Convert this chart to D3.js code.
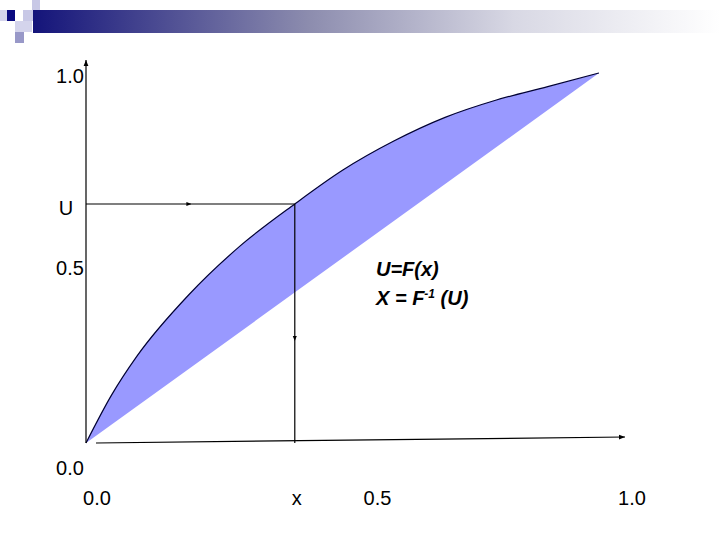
<!DOCTYPE html>
<html>
<head>
<meta charset="utf-8">
<script src="https://cdn.jsdelivr.net/npm/d3@7"></script>
<style>
  body { margin: 0; background: #fff; }
  svg { display: block; font-family: "Liberation Sans", Arial, sans-serif; }
  .tick-label { font-size: 20px; fill: #000; }
  .formula { font-size: 20px; font-weight: bold; font-style: italic; fill: #000; }
</style>
</head>
<body>
<script>
// curve points, x and U=F(x) in 0..1
const curveX = [0, 0.05, 0.1, 0.2, 0.3, 0.407, 0.5, 0.6, 0.7, 0.8, 0.9, 1.0];
const curveU = [0, 0.130, 0.236, 0.400, 0.532, 0.646, 0.737, 0.816, 0.880, 0.927, 0.963, 1.0];

// chord under the curve
const chordX = [0, 1];
const chordU = [0, 1];

// the sampled point
const pointX = 0.407;
const pointU = 0.646;

// tick labels
const yTickVals = [1.0, 0.5, 0.0];
const yTickText = ["1.0", "0.5", "0.0"];
const xTickVals = [0.0, 0.5, 1.0];
const xTickText = ["0.0", "0.5", "1.0"];

const width = 720;
const height = 540;

const svg = d3.select('body')
  .append('svg')
  .attr('width', width)
  .attr('height', height);

const defs = svg.append('defs');

// banner gradient
const grad = defs.append('linearGradient')
  .attr('id', 'banner')
  .attr('x1', '0%').attr('x2', '100%')
  .attr('y1', '0%').attr('y2', '0%');
grad.append('stop').attr('offset', '0%').attr('stop-color', '#14147a');
grad.append('stop').attr('offset', '40%').attr('stop-color', '#8c8cae');
grad.append('stop').attr('offset', '70%').attr('stop-color', '#d8d8e4');
grad.append('stop').attr('offset', '100%').attr('stop-color', '#ffffff');

// small arrow head
defs.append('marker')
  .attr('id', 'arrow')
  .attr('viewBox', '0 -5 10 10')
  .attr('refX', 10)
  .attr('markerWidth', 5)
  .attr('markerHeight', 5)
  .attr('orient', 'auto')
.append('path')
  .attr('d', 'M0,-4L10,0L0,4')
  .attr('fill', '#000');

// slide decoration
svg.append('rect')
  .attr('x', 33).attr('y', 10)
  .attr('width', width - 33).attr('height', 23)
  .attr('fill', 'url(#banner)');

const squares = [
  [0, 10, 7, 11, '#d4d4ec'],
  [7, 10, 8, 11, '#0a0a80'],
  [32, 0, 8, 10, '#c8c8e6'],
  [23, 10, 10, 11, '#c8c8e6'],
  [15, 21, 17, 11, '#d4d4ec'],
  [15, 32, 9, 11, '#9898c8']
];
svg.selectAll('rect.sq')
  .data(squares)
  .enter().append('rect')
  .attr('class', 'sq')
  .attr('x', (d) => d[0]).attr('y', (d) => d[1])
  .attr('width', (d) => d[2]).attr('height', (d) => d[3])
  .attr('fill', (d) => d[4]);

// scales
const x = d3.scaleLinear().domain([0, 1]).range([86, 599]);
const y = d3.scaleLinear().domain([0, 1]).range([443, 73]);

const curvePts = curveX.map((v, i) => [v, curveU[i]]);
const chordPts = chordX.map((v, i) => [v, chordU[i]]).reverse();

// fill between curve and chord
const line = d3.line()
  .x((d) => x(d[0]))
  .y((d) => y(d[1]))
  .curve(d3.curveMonotoneX);

const area = line(curvePts) + 'L' + chordPts.map((d) => x(d[0]) + ',' + y(d[1])).join('L') + 'Z';
svg.append('path')
  .attr('d', area)
  .attr('fill', '#9999ff')
  .attr('stroke', 'none');

svg.append('path')
  .attr('d', line(curvePts))
  .attr('fill', 'none')
  .attr('stroke', '#000033')
  .attr('stroke-width', 1.2);

// axes
svg.append('line')
  .attr('x1', x(0)).attr('y1', y(0))
  .attr('x2', x(0)).attr('y2', 60)
  .attr('stroke', '#000').attr('stroke-width', 1.2)
  .attr('marker-end', 'url(#arrow)');

svg.append('line')
  .attr('x1', x(0) + 10).attr('y1', y(0))
  .attr('x2', 625).attr('y2', y(0) - 6)
  .attr('stroke', '#000').attr('stroke-width', 1.2)
  .attr('marker-end', 'url(#arrow)');

// U -> x guide lines
svg.append('line')
  .attr('x1', x(0)).attr('y1', y(pointU))
  .attr('x2', x(pointX)).attr('y2', y(pointU))
  .attr('stroke', '#000').attr('stroke-width', 1.2);
svg.append('path')
  .attr('d', `M${x(0)},${y(pointU)}L${(x(0) + x(pointX)) / 2 + 1},${y(pointU)}`)
  .attr('stroke', 'none')
  .attr('marker-end', 'url(#arrow)');

svg.append('line')
  .attr('x1', x(pointX)).attr('y1', y(pointU))
  .attr('x2', x(pointX)).attr('y2', y(0))
  .attr('stroke', '#000').attr('stroke-width', 1.2);
svg.append('path')
  .attr('d', `M${x(pointX)},${y(pointU)}L${x(pointX)},${y(pointU) + 137}`)
  .attr('stroke', 'none')
  .attr('marker-end', 'url(#arrow)');

// y labels
const yLabelShift = [-3, -10, -25];
svg.selectAll('text.ylab')
  .data(yTickVals)
  .enter().append('text')
  .attr('class', 'tick-label')
  .attr('x', 70)
  .attr('y', (d, i) => y(d) - yLabelShift[i] + 7)
  .attr('text-anchor', 'middle')
  .text((d, i) => yTickText[i]);

svg.append('text')
  .attr('class', 'tick-label')
  .attr('x', 66)
  .attr('y', y(pointU) + 11)
  .attr('text-anchor', 'middle')
  .text('U');

// x labels
const xLabelShift = [11, 35, 33];
svg.selectAll('text.xlab')
  .data(xTickVals)
  .enter().append('text')
  .attr('class', 'tick-label')
  .attr('x', (d, i) => x(d) + xLabelShift[i])
  .attr('y', 505)
  .attr('text-anchor', 'middle')
  .text((d, i) => xTickText[i]);

svg.append('text')
  .attr('class', 'tick-label')
  .attr('x', x(pointX) + 2)
  .attr('y', 505)
  .attr('text-anchor', 'middle')
  .text('x');

// formulas
svg.append('text')
  .attr('class', 'formula')
  .attr('x', 376)
  .attr('y', 276)
  .text('U=F(x)');

const f2 = svg.append('text')
  .attr('class', 'formula')
  .attr('x', 376)
  .attr('y', 305);
f2.append('tspan').text('X = F');
f2.append('tspan').attr('font-size', 12).attr('dy', -7).text('-1');
f2.append('tspan').attr('dy', 7).text(' (U)');
</script>
</body>
</html>
